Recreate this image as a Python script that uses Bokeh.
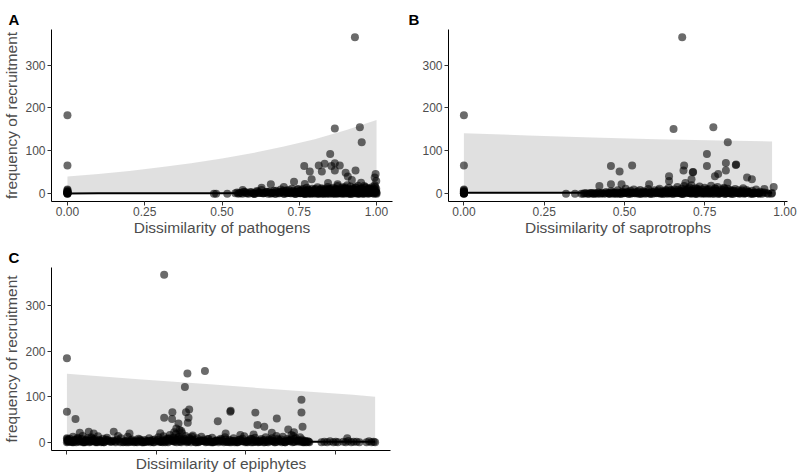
from bokeh.plotting import figure
from bokeh.layouts import column, row
from bokeh.models import Range1d, FixedTicker, Title, NumeralTickFormatter, CustomJSTickFormatter
from bokeh.embed import file_html
from bokeh.resources import INLINE

# ---------------- Panel A: pathogens ----------------
a_top_x = [0.0, 0.0, 0.93, 0.865, 0.946, 0.952, 0.85, 0.766, 0.784, 0.813, 0.823, 0.832,
           0.854, 0.865, 0.865, 0.881, 0.79, 0.9, 0.907, 0.932, 0.92, 0.997, 0.994, 0.999,
           0.95, 0.733, 0.768, 0.70, 0.658, 0.628, 0.567, 0.843, 0.874, 0.96, 0.905]
a_top_y = [183, 66, 365, 152, 155, 120, 93, 65, 52, 66, 52, 70,
           65, 71, 54, 66, 34, 49, 40, 54, 32, 46, 38, 30,
           26, 28, 23, 16, 22, 14, 9, 25, 22, 18, 20]
zero_x = [0, 0, 0, 0, 0, 0, 0, 0, 0, 0, 0, 0]
zero_y = [0, 1, 2, 3, 4, 6, 8, 10, 0, 2, 1, 5]
a_band_x = [0.474, 0.481, 0.517, 0.543, 0.549, 0.553, 0.561, 0.570, 0.577, 0.586,
            0.592, 0.601, 0.607, 0.615, 0.622, 0.628, 0.636, 0.641, 0.649, 0.653,
            0.662, 0.668, 0.671, 0.679, 0.686, 0.690, 0.697, 0.702, 0.706, 0.712,
            0.717, 0.721, 0.726, 0.731, 0.735, 0.739, 0.744, 0.748, 0.751, 0.755,
            0.759, 0.762, 0.766, 0.771, 0.774, 0.778, 0.781, 0.786, 0.789, 0.792,
            0.796, 0.799, 0.803, 0.806, 0.809, 0.812, 0.816, 0.819, 0.822, 0.826,
            0.829, 0.832, 0.835, 0.838, 0.842, 0.845, 0.848, 0.851, 0.853, 0.857,
            0.860, 0.862, 0.866, 0.869, 0.872, 0.874, 0.878, 0.880, 0.884, 0.887,
            0.889, 0.893, 0.896, 0.898, 0.902, 0.904, 0.907, 0.911, 0.913, 0.916,
            0.919, 0.922, 0.925, 0.928, 0.931, 0.934, 0.937, 0.940, 0.943, 0.946,
            0.949, 0.952, 0.955, 0.958, 0.961, 0.964, 0.967, 0.970, 0.973, 0.976,
            0.979, 0.982, 0.985, 0.988, 0.991, 0.994, 0.997, 1.000, 0.999, 0.998,
            0.752, 0.758, 0.764, 0.770, 0.776, 0.783, 0.788, 0.794, 0.801, 0.807,
            0.813, 0.818, 0.824, 0.830, 0.836, 0.841, 0.847, 0.853, 0.858, 0.864,
            0.870, 0.876, 0.881, 0.887, 0.893, 0.898, 0.904, 0.910, 0.915, 0.921,
            0.927, 0.933, 0.938, 0.944, 0.950, 0.956, 0.962, 0.968, 0.975, 0.985,
            0.556, 0.566, 0.575, 0.583, 0.595, 0.604, 0.612, 0.620, 0.633, 0.645,
            0.657, 0.665, 0.675, 0.683, 0.693, 0.700, 0.709, 0.715, 0.724, 0.729,
            0.737, 0.742, 0.747, 0.754, 0.761, 0.768, 0.773, 0.779, 0.785, 0.791,
            0.797, 0.804, 0.810, 0.815, 0.821, 0.827, 0.833, 0.839, 0.844, 0.850,
            0.856, 0.861, 0.867, 0.873, 0.879, 0.885, 0.891, 0.897, 0.903, 0.909,
            0.914, 0.920, 0.926, 0.932, 0.939, 0.945, 0.951, 0.957, 0.963, 0.969,
            0.974, 0.980, 0.986, 0.992, 0.996, 1.000, 0.995, 0.989, 0.983, 0.977,
            0.603, 0.617, 0.631, 0.646, 0.660, 0.674, 0.688, 0.699, 0.710, 0.720,
            0.730, 0.740, 0.750, 0.757, 0.764, 0.772, 0.779, 0.787, 0.795, 0.802,
            0.811, 0.817, 0.825, 0.831, 0.839, 0.846, 0.852, 0.859, 0.865, 0.871,
            0.877, 0.883, 0.890, 0.895, 0.901, 0.908, 0.917, 0.923, 0.929, 0.936,
            0.942, 0.948, 0.954, 0.960, 0.966, 0.972, 0.978, 0.984, 0.990, 0.997]
a_band_y = [0, 0, 0, 1, 3, 0, 2, 5, 1, 0,
            4, 1, 0, 6, 2, 9, 1, 3, 0, 5,
            2, 7, 0, 4, 1, 10, 3, 0, 6, 2,
            8, 1, 12, 3, 0, 5, 10, 2, 7, 1,
            4, 11, 0, 6, 14, 2, 9, 1, 5, 12,
            3, 0, 10, 6, 15, 2, 8, 1, 13, 4,
            0, 11, 7, 2, 16, 5, 9, 1, 12, 3,
            14, 6, 0, 10, 4, 18, 2, 8, 13, 1,
            5, 11, 0, 15, 7, 3, 12, 1, 9, 17,
            4, 0, 10, 6, 14, 2, 8, 19, 1, 11,
            5, 13, 0, 9, 3, 16, 7, 1, 12, 4,
            10, 2, 15, 6, 0, 20, 8, 3, 12, 1,
            1, 5, 2, 0, 7, 3, 0, 6, 2, 4,
            0, 8, 3, 5, 1, 6, 0, 4, 9, 2,
            5, 1, 7, 0, 4, 10, 2, 6, 0, 3,
            8, 1, 5, 0, 7, 2, 4, 9, 1, 6,
            2, 0, 4, 1, 3, 0, 6, 2, 1, 4,
            0, 3, 7, 1, 5, 0, 8, 3, 1, 6,
            0, 4, 11, 2, 7, 0, 5, 10, 3, 1,
            8, 4, 0, 6, 11, 2, 7, 0, 10, 3,
            5, 1, 12, 0, 6, 9, 2, 13, 4, 0,
            7, 10, 3, 15, 0, 6, 10, 2, 14, 5,
            0, 8, 3, 11, 5, 0, 16, 4, 9, 13,
            0, 3, 1, 5, 2, 0, 4, 7, 1, 3,
            6, 0, 3, 8, 1, 4, 0, 6, 3, 11,
            1, 5, 0, 9, 3, 12, 6, 0, 4, 10,
            2, 7, 15, 1, 11, 5, 0, 13, 3, 8,
            1, 12, 4, 0, 9, 3, 11, 6, 1, 4]
a_fit_x = [0, 0.1, 0.2, 0.3, 0.4, 0.5, 0.6, 0.7, 0.8, 0.9, 1.0]
a_fit_upper = [40, 46, 53, 62, 71, 82, 95, 110, 127, 148, 172]
a_fit_lower = [0.2, 0.2, 0.3, 0.3, 0.4, 0.4, 0.5, 0.5, 0.6, 0.7, 0.8]
a_fit_mean = [0.9, 1.0, 1.1, 1.2, 1.4, 1.5, 1.7, 1.9, 2.1, 2.4, 2.7]

# ---------------- Panel B: saprotrophs ----------------
b_top_x = [0.0, 0.0, 0.68, 0.653, 0.777, 0.822, 0.757, 0.458, 0.485, 0.524, 0.686, 0.684,
           0.713, 0.757, 0.816, 0.816, 0.847, 0.782, 0.792, 0.639, 0.639, 0.709, 0.882,
           0.897, 0.821, 0.458, 0.491, 0.577, 0.965, 0.936, 0.422, 0.714, 0.848, 0.709, 0.69]
b_top_y = [183, 66, 365, 151, 155, 120, 93, 65, 52, 66, 66, 54,
           50, 65, 72, 54, 67, 41, 46, 41, 30, 34, 38,
           34, 26, 22, 22, 22, 16, 11, 18, 51, 68, 20, 25]
b_band_x = [0.318, 0.346, 0.372, 0.381, 0.390, 0.398, 0.405, 0.412, 0.419, 0.425,
            0.431, 0.437, 0.443, 0.449, 0.454, 0.459, 0.464, 0.469, 0.474, 0.479,
            0.484, 0.489, 0.494, 0.499, 0.504, 0.509, 0.514, 0.519, 0.524, 0.529,
            0.534, 0.539, 0.544, 0.549, 0.554, 0.559, 0.564, 0.569, 0.574, 0.579,
            0.584, 0.589, 0.594, 0.599, 0.604, 0.609, 0.614, 0.619, 0.624, 0.629,
            0.634, 0.638, 0.643, 0.647, 0.652, 0.656, 0.661, 0.665, 0.670, 0.674,
            0.678, 0.682, 0.686, 0.690, 0.694, 0.698, 0.702, 0.706, 0.710, 0.714,
            0.718, 0.722, 0.726, 0.730, 0.734, 0.738, 0.742, 0.746, 0.750, 0.754,
            0.758, 0.762, 0.766, 0.770, 0.774, 0.778, 0.782, 0.786, 0.790, 0.794,
            0.798, 0.802, 0.806, 0.810, 0.814, 0.818, 0.822, 0.826, 0.830, 0.835,
            0.840, 0.845, 0.850, 0.855, 0.860, 0.865, 0.870, 0.875, 0.880, 0.886,
            0.892, 0.898, 0.904, 0.910, 0.916, 0.922, 0.929, 0.936, 0.944, 0.958,
            0.602, 0.612, 0.622, 0.632, 0.641, 0.650, 0.659, 0.668, 0.676, 0.684,
            0.692, 0.700, 0.708, 0.716, 0.724, 0.732, 0.740, 0.748, 0.756, 0.764,
            0.772, 0.780, 0.788, 0.796, 0.804, 0.812, 0.820, 0.828, 0.837, 0.848,
            0.858, 0.868, 0.878, 0.888, 0.898, 0.908, 0.918, 0.930, 0.948, 0.960,
            0.366, 0.376, 0.386, 0.395, 0.402, 0.409, 0.416, 0.428, 0.440, 0.452,
            0.462, 0.472, 0.482, 0.492, 0.502, 0.512, 0.522, 0.532, 0.542, 0.552,
            0.562, 0.572, 0.582, 0.592, 0.606, 0.616, 0.626, 0.636, 0.645, 0.654,
            0.663, 0.672, 0.680, 0.688, 0.696, 0.704, 0.712, 0.720, 0.728, 0.736,
            0.744, 0.752, 0.760, 0.768, 0.776, 0.784, 0.792, 0.800, 0.808, 0.816,
            0.824, 0.832, 0.842, 0.852, 0.862, 0.872, 0.883, 0.895, 0.907, 0.920,
            0.452, 0.466, 0.478, 0.490, 0.500, 0.510, 0.520, 0.530, 0.540, 0.550,
            0.560, 0.570, 0.580, 0.590, 0.600, 0.610, 0.620, 0.630, 0.640, 0.649,
            0.658, 0.667, 0.675, 0.683, 0.691, 0.699, 0.707, 0.715, 0.723, 0.731,
            0.739, 0.747, 0.755, 0.763, 0.771, 0.779, 0.787, 0.795, 0.803, 0.811,
            0.819, 0.827, 0.836, 0.846, 0.856, 0.866, 0.876, 0.889, 0.902, 0.915]
b_band_y = [0, 0, 0, 1, 0, 2, 0, 1, 3, 0,
            1, 0, 4, 2, 0, 6, 1, 3, 0, 8,
            2, 0, 5, 1, 12, 3, 0, 7, 2, 10,
            1, 4, 0, 9, 2, 6, 0, 3, 11, 1,
            5, 0, 8, 2, 4, 12, 1, 6, 0, 9,
            3, 14, 1, 7, 0, 10, 4, 16, 2, 6,
            12, 0, 18, 5, 9, 2, 15, 7, 1, 11,
            4, 13, 0, 8, 17, 3, 10, 1, 14, 6,
            2, 11, 5, 19, 0, 8, 13, 3, 16, 6,
            1, 10, 4, 14, 0, 7, 12, 2, 9, 5,
            0, 11, 3, 8, 1, 6, 13, 2, 9, 4,
            0, 7, 2, 10, 1, 5, 0, 3, 1, 0,
            2, 0, 4, 1, 3, 0, 5, 2, 0, 6,
            1, 3, 0, 4, 2, 7, 0, 3, 5, 1,
            4, 0, 6, 2, 3, 0, 5, 1, 7, 2,
            0, 3, 1, 4, 0, 2, 1, 3, 0, 2,
            0, 1, 0, 2, 0, 1, 0, 2, 1, 0,
            3, 1, 0, 4, 2, 0, 3, 1, 6, 0,
            2, 5, 0, 3, 8, 1, 5, 0, 9, 3,
            1, 6, 0, 10, 4, 1, 7, 0, 12, 3,
            5, 0, 9, 2, 6, 11, 0, 4, 8, 1,
            5, 0, 7, 2, 4, 0, 6, 1, 3, 0,
            1, 0, 3, 0, 2, 5, 0, 3, 1, 0,
            4, 1, 0, 5, 1, 3, 0, 7, 2, 4,
            1, 9, 3, 0, 6, 11, 2, 5, 0, 8,
            3, 1, 10, 0, 5, 2, 7, 0, 4, 12,
            1, 6, 0, 4, 2, 8, 1, 3, 0, 2]
b_fit_x = [0, 0.2, 0.4, 0.6, 0.8, 0.96]
b_fit_upper = [141, 136, 131, 127, 124, 122]
b_fit_lower = [0.4, 0.4, 0.4, 0.4, 0.4, 0.4]
b_fit_mean = [2.6, 2.5, 2.4, 2.3, 2.2, 2.2]

# ---------------- Panel C: epiphytes ----------------
c_top_x = [0.0, 0.0, 0.024, 0.272, 0.337, 0.386, 0.33, 0.272, 0.295, 0.294, 0.333, 0.342,
           0.34, 0.338, 0.312, 0.306, 0.315, 0.457, 0.458, 0.422, 0.444, 0.527, 0.533,
           0.552, 0.587, 0.573, 0.619, 0.635, 0.656, 0.656, 0.659, 0.633, 0.036, 0.061,
           0.075, 0.131, 0.143, 0.175, 0.261, 0.485, 0.522, 0.784, 0.30, 0.32]
c_top_y = [184, 67, 51, 367, 151, 156, 121, 54, 66, 51, 66, 72,
           54, 43, 41, 30, 27, 67, 69, 46, 19, 65, 38,
           34, 52, 21, 28, 22, 93, 65, 34, 14, 21, 23,
           19, 23, 14, 19, 20, 16, 17, 9, 22, 25]
c_band_x = [0.000, 0.004, 0.008, 0.012, 0.017, 0.021, 0.026, 0.030, 0.035, 0.040,
            0.044, 0.049, 0.054, 0.058, 0.063, 0.068, 0.072, 0.077, 0.082, 0.087,
            0.091, 0.096, 0.101, 0.106, 0.112, 0.121, 0.130, 0.136, 0.141, 0.146,
            0.151, 0.157, 0.163, 0.170, 0.176, 0.182, 0.188, 0.194, 0.200, 0.206,
            0.212, 0.218, 0.224, 0.230, 0.236, 0.241, 0.246, 0.251, 0.256, 0.261,
            0.266, 0.270, 0.275, 0.279, 0.284, 0.288, 0.292, 0.297, 0.301, 0.305,
            0.309, 0.313, 0.318, 0.322, 0.327, 0.332, 0.337, 0.342, 0.347, 0.352,
            0.358, 0.364, 0.370, 0.376, 0.382, 0.388, 0.394, 0.400, 0.406, 0.412,
            0.418, 0.424, 0.430, 0.436, 0.442, 0.448, 0.454, 0.460, 0.466, 0.472,
            0.478, 0.484, 0.490, 0.496, 0.502, 0.508, 0.514, 0.520, 0.526, 0.532,
            0.538, 0.544, 0.550, 0.556, 0.562, 0.568, 0.574, 0.580, 0.586, 0.592,
            0.598, 0.604, 0.610, 0.616, 0.622, 0.628, 0.634, 0.640, 0.646, 0.652,
            0.658, 0.662, 0.666, 0.670, 0.674, 0.678,
            0.002, 0.010, 0.019, 0.028, 0.038, 0.047, 0.056, 0.066, 0.075, 0.085,
            0.094, 0.104, 0.116, 0.160, 0.172, 0.185, 0.198, 0.210, 0.222, 0.234,
            0.262, 0.273, 0.283, 0.294, 0.304, 0.315, 0.325, 0.335, 0.345, 0.355,
            0.367, 0.379, 0.391, 0.403, 0.415, 0.427, 0.439, 0.451, 0.463, 0.475,
            0.487, 0.499, 0.511, 0.523, 0.535, 0.547, 0.559, 0.571, 0.583, 0.595,
            0.607, 0.619, 0.631, 0.643, 0.655, 0.664, 0.002, 0.001, 0.003, 0.000,
            0.712, 0.720, 0.728, 0.736, 0.745, 0.752, 0.758, 0.773, 0.780, 0.787,
            0.795, 0.802, 0.810, 0.818, 0.838, 0.845, 0.852, 0.858, 0.862,
            0.006, 0.015, 0.024, 0.033, 0.042, 0.051, 0.060, 0.070, 0.080, 0.089,
            0.099, 0.109, 0.126, 0.166, 0.179, 0.191, 0.204, 0.216, 0.228, 0.239,
            0.258, 0.268, 0.277, 0.287, 0.299, 0.310, 0.320, 0.330, 0.340, 0.350,
            0.361, 0.373, 0.385, 0.397, 0.409, 0.421, 0.433, 0.445, 0.457, 0.469,
            0.481, 0.493, 0.505, 0.517, 0.529, 0.541, 0.553, 0.565, 0.577, 0.589,
            0.601, 0.613, 0.625, 0.637, 0.649, 0.660, 0.668, 0.676,
            0.003, 0.013, 0.022, 0.031, 0.045, 0.053, 0.064, 0.073, 0.083, 0.093,
            0.103, 0.113, 0.124, 0.135, 0.150, 0.168, 0.181, 0.196, 0.208, 0.220,
            0.232, 0.244, 0.254, 0.264, 0.274, 0.285, 0.296, 0.307, 0.317, 0.328,
            0.338, 0.349, 0.360, 0.371, 0.383, 0.395, 0.407, 0.419, 0.431, 0.443,
            0.455, 0.467, 0.479, 0.491, 0.503, 0.515, 0.527, 0.539, 0.551, 0.563,
            0.575, 0.587, 0.599, 0.611, 0.623, 0.635, 0.647, 0.659]
c_band_y = [0, 3, 8, 1, 12, 5, 0, 10, 2, 6,
            14, 1, 4, 9, 0, 11, 3, 7, 1, 13,
            5, 0, 8, 2, 10, 1, 4, 0, 6, 2,
            9, 0, 3, 12, 1, 6, 0, 4, 8, 2,
            0, 5, 1, 9, 3, 0, 6, 2, 11, 1,
            4, 13, 0, 8, 2, 16, 5, 10, 1, 18,
            6, 12, 2, 20, 8, 14, 3, 10, 0, 15,
            5, 9, 1, 12, 3, 0, 7, 2, 10, 1,
            4, 0, 8, 2, 11, 1, 5, 0, 9, 3,
            0, 6, 2, 13, 1, 4, 8, 0, 10, 3,
            1, 7, 0, 11, 4, 2, 9, 0, 14, 5,
            2, 12, 0, 7, 3, 16, 1, 9, 4, 11,
            6, 1, 3, 0, 2, 0,
            1, 4, 0, 6, 2, 0, 5, 1, 3, 0,
            2, 0, 3, 1, 0, 2, 1, 0, 3, 0,
            2, 5, 0, 3, 6, 1, 4, 0, 7, 2,
            0, 3, 1, 0, 2, 4, 0, 1, 3, 0,
            2, 0, 4, 1, 0, 3, 1, 5, 0, 2,
            1, 4, 0, 3, 1, 0, 5, 7, 2, 9,
            0, 1, 0, 2, 0, 1, 0, 1, 0, 3,
            0, 1, 1, 0, 0, 2, 0, 1, 0,
            2, 0, 5, 1, 7, 0, 3, 9, 0, 4,
            1, 6, 2, 0, 4, 1, 6, 0, 2, 5,
            1, 0, 4, 8, 2, 10, 0, 6, 3, 12,
            0, 4, 2, 7, 0, 3, 6, 1, 4, 0,
            5, 2, 0, 7, 1, 4, 0, 6, 2, 8,
            0, 3, 6, 1, 4, 0, 2, 1,
            5, 1, 3, 8, 0, 4, 2, 6, 1, 3,
            0, 5, 1, 2, 0, 3, 1, 0, 4, 1,
            3, 0, 5, 1, 2, 9, 4, 0, 7, 3,
            1, 5, 0, 2, 6, 1, 0, 4, 2, 6,
            0, 3, 1, 8, 2, 0, 4, 1, 5, 0,
            3, 1, 6, 0, 2, 7, 1, 3]
c_fit_x = [0, 0.2, 0.4, 0.6, 0.8, 0.862]
c_fit_upper = [150, 138, 127, 115, 104, 100]
c_fit_lower = [0.3, 0.3, 0.3, 0.3, 0.3, 0.3]
c_fit_mean = [1.8, 1.6, 1.5, 1.4, 1.3, 1.2]

y_ticks = [0, 100, 200, 300]
ab_x_ticks = [0, 0.25, 0.5, 0.75, 1.0]
c_x_ticks = [0, 0.25, 0.5, 0.75]

FONT = "Liberation Sans"
TXT = "#4d4d4d"


def panel(tag, xs, ys, fx, flo, fup, fmean, xr, xticks, xlabel, ylabel,
          width, height, mb_left, mb_right, mb_bottom, hide_xlabels=False):
    p = figure(width=width, height=height, output_backend="svg", toolbar_location=None,
               x_range=Range1d(*xr), y_range=Range1d(-18, 383),
               min_border_left=mb_left, min_border_right=mb_right,
               min_border_top=29, min_border_bottom=mb_bottom)
    p.outline_line_color = None
    p.xgrid.visible = False
    p.ygrid.visible = False
    p.background_fill_color = "white"
    p.border_fill_color = "white"

    t = Title(text=tag, text_font=FONT, text_font_size="15px", text_font_style="bold",
              text_color="black", align="left", offset=-(mb_left - 8), standoff=4)
    p.add_layout(t, "above")

    p.varea(x=fx, y1=flo, y2=fup, fill_color="#999999", fill_alpha=0.3)
    p.scatter(x=xs, y=ys, size=8, fill_color="black", fill_alpha=0.58, line_color=None)
    p.line(x=fx, y=fmean, line_color="black", line_width=2)

    for ax in (p.xaxis[0], p.yaxis[0]):
        ax.axis_line_color = "black"
        ax.axis_line_width = 1
        ax.major_tick_line_color = "#333333"
        ax.major_tick_in = 0
        ax.major_tick_out = 4
        ax.minor_tick_line_color = None
        ax.major_label_text_font = FONT
        ax.major_label_text_font_size = "12px"
        ax.major_label_text_color = TXT
        ax.axis_label_text_font = FONT
        ax.axis_label_text_font_size = "15.5px"
        ax.axis_label_text_font_style = "normal"
        ax.axis_label_text_color = TXT
        ax.major_label_standoff = 2

    p.yaxis.ticker = FixedTicker(ticks=y_ticks)
    p.xaxis.ticker = FixedTicker(ticks=xticks)
    p.xaxis.axis_label = xlabel
    if hide_xlabels:
        p.xaxis.formatter = CustomJSTickFormatter(code="return ''")
        p.xaxis.major_label_standoff = 0
        p.xaxis.axis_label_standoff = 0
    else:
        p.xaxis.formatter = NumeralTickFormatter(format="0.00")
        p.xaxis.major_label_standoff = 1
        p.xaxis.axis_label_standoff = 0
    if ylabel:
        p.yaxis.axis_label = ylabel
        p.yaxis.axis_label_standoff = 2
    return p


pA = panel("A", a_top_x + zero_x + a_band_x, a_top_y + zero_y + a_band_y,
           a_fit_x, a_fit_lower, a_fit_upper, a_fit_mean,
           (-0.0516, 1.0516), ab_x_ticks, "Dissimilarity of pathogens", "frequency of recruitment",
           400, 238, 51, 8, 37)
pB = panel("B", b_top_x + zero_x + b_band_x, b_top_y + zero_y + b_band_y,
           b_fit_x, b_fit_lower, b_fit_upper, b_fit_mean,
           (-0.048, 1.008), ab_x_ticks, "Dissimilarity of saprotrophs", None,
           399, 238, 48, 12, 37)
pC = panel("C", c_top_x + c_band_x, c_top_y + c_band_y,
           c_fit_x, c_fit_lower, c_fit_upper, c_fit_mean,
           (-0.0431, 0.905), c_x_ticks, "Dissimilarity of epiphytes", "frequency of recruitment",
           400, 236, 51, 10, 21, hide_xlabels=True)

layout = column(row(pA, pB), pC)
open("out.html", "w").write(file_html(layout, INLINE))
